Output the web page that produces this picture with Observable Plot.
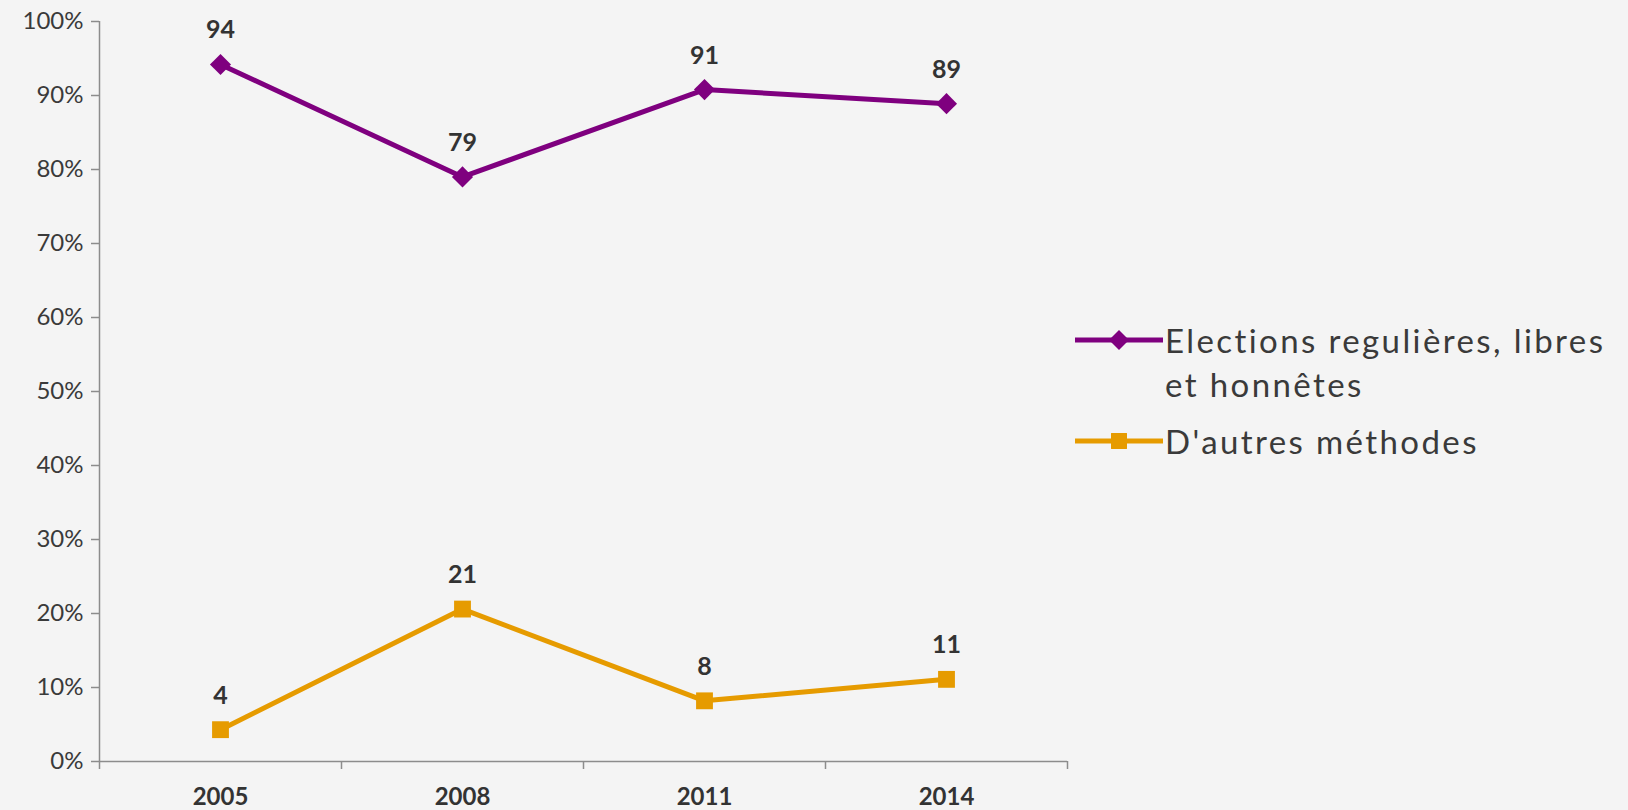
<!DOCTYPE html>
<html><head><meta charset="utf-8">
<script src="https://cdn.jsdelivr.net/npm/d3@7"></script>
<script src="https://cdn.jsdelivr.net/npm/@observablehq/plot@0.6"></script>
<style>
body{margin:0;background:#f4f4f4;font-family:Lato,sans-serif;}
#wrap{position:relative;width:1628px;height:810px;overflow:hidden;background:#f4f4f4}
#legend{position:absolute;left:1075px;top:318px;font-size:33px;letter-spacing:2.4px;color:#3a3a3a;}
.item{display:flex;align-items:flex-start;margin-bottom:13px}
.item svg{flex:none}
.item .lab{width:462px;line-height:44px;margin-left:2px}
</style></head>
<body><div id="wrap"><div id="chart"></div><div id="legend"></div></div>
<script>
const years = ["2005", "2008", "2011", "2014"];
const elections = [94.2, 79.0, 90.8, 88.9];
const autres = [4.3, 20.6, 8.2, 11.1];
const seriesNames = ["Elections regulières, libres et honnêtes", "D'autres méthodes"];
const seriesColors = ["#7f007f", "#e69b00"];
const seriesSymbols = ["diamond2", "square"];
const yTicks = [0, 10, 20, 30, 40, 50, 60, 70, 80, 90, 100];

const data = years.flatMap((yr, i) => [
  {year: yr, idx: i, series: seriesNames[0], value: elections[i]},
  {year: yr, idx: i, series: seriesNames[1], value: autres[i]}
]);
const xPos = d => d.idx + 0.5;

const chart = Plot.plot({
  width: 1628, height: 810,
  marginLeft: 99, marginRight: 561, marginTop: 21, marginBottom: 49,
  style: {fontFamily: "Lato, sans-serif", background: "transparent", overflow: "visible"},
  x: {domain: [0, years.length]},
  y: {domain: [0, 100]},
  color: {domain: seriesNames, range: seriesColors},
  symbol: {domain: seriesNames, range: seriesSymbols},
  marks: [
    Plot.axisY({ticks: yTicks, tickFormat: d => d + "%", tickSize: 8, tickPadding: 8, fontSize: 24, stroke: "#8c8c8c", fill: "#3a3a3a", strokeWidth: 1.5, label: null}),
    Plot.axisX({ticks: d3.range(years.length + 1), tickFormat: () => "", tickSize: 8, stroke: "#8c8c8c", strokeWidth: 1.5, label: null}),
    Plot.ruleX([0], {y1: 0, y2: 100, stroke: "#8c8c8c", strokeWidth: 1.5}),
    Plot.ruleY([0], {x1: 0, x2: years.length, stroke: "#8c8c8c", strokeWidth: 1.5}),
    Plot.text(years, {x: (d, i) => i + 0.5, y: () => 0, text: d => d, dy: 36, fontSize: 24, fontWeight: "bold", fill: "#333"}),
    Plot.line(data, {x: xPos, y: "value", z: "series", stroke: "series", strokeWidth: 5}),
    Plot.dot(data, {x: xPos, y: "value", fill: "series", symbol: "series", r: 9.5}),
    Plot.text(data, {x: xPos, y: "value", text: d => Math.round(d.value), dy: -34, fontSize: 25, fontWeight: "bold", fill: "#333"})
  ]
});
document.getElementById("chart").appendChild(chart);

const legend = document.getElementById("legend");
seriesNames.forEach((name, i) => {
  const item = document.createElement("div");
  item.className = "item";
  const sym = d3.symbol(d3[seriesSymbols[i] === "square" ? "symbolSquare" : "symbolDiamond2"], Math.PI * 81)();
  item.innerHTML = `<svg width="88" height="44"><line x1="0" x2="88" y1="22" y2="22" stroke="${seriesColors[i]}" stroke-width="5"/><path transform="translate(44,22)" d="${sym}" fill="${seriesColors[i]}"/></svg><div class="lab"></div>`;
  item.querySelector(".lab").textContent = name;
  legend.appendChild(item);
});
</script></body></html>
